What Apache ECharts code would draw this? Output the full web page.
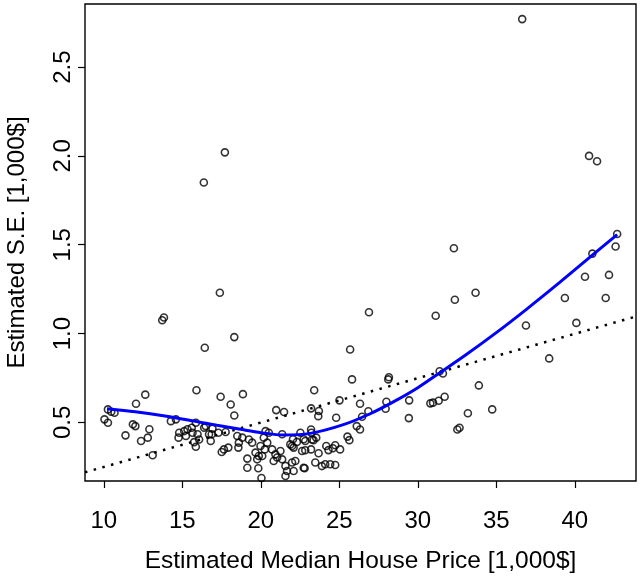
<!DOCTYPE html>
<html>
<head>
<meta charset="utf-8">
<script src="https://cdn.jsdelivr.net/npm/echarts@6/dist/echarts.min.js"></script>
<style>
html,body{margin:0;padding:0;background:#fff;}
#chart{width:640px;height:578px;}
</style>
</head>
<body>
<div id="chart"></div>
<script>
const xTicks = [10, 15, 20, 25, 30, 35, 40];
const yTicks = [0.5, 1.0, 1.5, 2.0, 2.5];

const priceX = [
36.65,17.71,16.37,40.91,41.42,17.39,13.83,13.72,16.43,18.31,32.30,32.36,33.68,31.14,26.89,36.89,38.37,40.10,39.37,41.97,40.65,42.18,41.12,42.70,42.60,
34.74,33.89,33.19,32.66,32.52,29.45,29.43,30.80,30.97,31.33,31.71,31.39,31.60,28.16,28.12,28.00,27.95,26.32,26.85,26.32,
25.69,25.81,23.40,25.01,23.20,23.70,23.66,24.80,26.45,26.11,23.20,25.52,25.64,22.73,23.36,23.53,22.05,22.30,24.17,24.74,24.59,25.05,22.83,23.20,23.68,24.31,22.09,22.20,21.99,22.73,23.47,23.89,24.10,24.42,24.74,21.99,
17.44,18.86,18.08,18.31,20.98,21.48,16.49,16.92,16.87,16.81,17.76,17.30,18.50,18.82,18.60,18.57,19.24,19.45,17.65,17.51,17.93,20.30,20.51,20.19,20.41,19.98,20.25,19.66,20.09,19.14,19.77,19.87,20.72,20.93,21.04,21.25,20.82,21.36,19.14,19.84,20.04,21.57,21.67,21.57,22.09,22.79,21.36,22.52,22.83,23.22,23.26,22.63,21.88,
15.90,12.64,12.05,10.26,10.47,10.68,10.04,10.26,11.85,12.01,11.38,12.90,12.80,12.37,13.11,14.27,14.59,14.80,14.76,15.12,15.33,15.23,15.60,15.65,15.86,15.97,16.07,15.75,15.86,16.39,16.70
];
const seY = [
2.77,2.02,1.85,2.00,1.97,1.23,1.09,1.075,0.92,0.98,1.48,1.19,1.23,1.10,1.12,1.045,0.86,1.06,1.20,1.20,1.32,1.33,1.45,1.56,1.49,
0.573,0.708,0.551,0.47,0.46,0.624,0.524,0.607,0.611,0.622,0.644,0.788,0.775,0.754,0.742,0.616,0.577,0.605,0.563,0.46,
0.91,0.742,0.681,0.624,0.579,0.564,0.535,0.526,0.532,0.479,0.46,0.42,0.40,0.405,0.40,0.414,0.405,0.39,0.367,0.371,0.354,0.348,0.343,0.348,0.326,0.344,0.358,0.283,0.274,0.245,0.274,0.254,0.264,0.264,0.26,0.367,
0.644,0.659,0.601,0.539,0.569,0.558,0.479,0.465,0.433,0.395,0.446,0.442,0.423,0.414,0.386,0.358,0.404,0.386,0.348,0.333,0.358,0.451,0.442,0.414,0.386,0.367,0.348,0.33,0.311,0.296,0.292,0.311,0.348,0.32,0.302,0.339,0.283,0.292,0.245,0.242,0.187,0.255,0.226,0.198,0.226,0.242,0.433,0.442,0.395,0.442,0.404,0.339,0.376,
0.681,0.656,0.605,0.573,0.56,0.554,0.517,0.498,0.489,0.479,0.427,0.461,0.414,0.395,0.315,0.507,0.517,0.442,0.414,0.451,0.461,0.423,0.47,0.442,0.498,0.433,0.404,0.389,0.363,0.47,0.433
];

const loessX = [10.2, 12, 14, 15.75, 17.2, 18.7, 20, 21.46, 23.15, 25.26, 27, 28.5, 30, 31.4, 33, 35, 36.9, 39, 41.1, 42.7];
const loessY = [0.577, 0.56, 0.535, 0.507, 0.484, 0.461, 0.442, 0.429, 0.438, 0.487, 0.55, 0.618, 0.695, 0.779, 0.876, 1.005, 1.135, 1.285, 1.44, 1.557];

const olsX = [8.8, 43.9];
const olsY = [0.219, 1.096];

const FONT = '"Liberation Sans", Arial, Helvetica, sans-serif';

const chart = echarts.init(document.getElementById('chart'), null, {renderer: 'canvas'});
chart.setOption({
  animation: false,
  backgroundColor: '#fff',
  grid: {left: 85, right: 4, top: 4, bottom: 97, show: true, borderColor: '#000', borderWidth: 1.4, backgroundColor: 'transparent', containLabel: false, outerBoundsMode: 'none'},
  xAxis: {
    type: 'value', min: 8.8, max: 43.9,
    name: 'Estimated Median House Price [1,000$]',
    nameLocation: 'middle', nameGap: 68,
    nameTextStyle: {fontFamily: FONT, fontSize: 24.5, color: '#000'},
    splitLine: {show: false},
    axisLine: {show: false},
    axisTick: {show: true, length: 7, customValues: xTicks, lineStyle: {color: '#000', width: 1.2}},
    axisLabel: {customValues: xTicks, formatter: v => String(v), fontFamily: FONT, fontSize: 24, color: '#000', margin: 28}
  },
  yAxis: {
    type: 'value', min: 0.17, max: 2.855,
    name: 'Estimated S.E. [1,000$]',
    nameLocation: 'middle', nameGap: 56,
    nameTextStyle: {fontFamily: FONT, fontSize: 24, color: '#000'},
    splitLine: {show: false},
    axisLine: {show: false},
    axisTick: {show: true, length: 7, customValues: yTicks, lineStyle: {color: '#000', width: 1.2}},
    axisLabel: {customValues: yTicks, formatter: v => v.toFixed(1), rotate: 90, fontFamily: FONT, fontSize: 24, color: '#000', margin: 10}
  },
  series: [
    {
      type: 'scatter',
      data: priceX.map((x, i) => [x, seY[i]]),
      symbol: 'circle', symbolSize: 7,
      itemStyle: {color: 'rgba(0,0,0,0)', borderColor: '#000', borderWidth: 1.6},
      z: 2
    },
    {
      type: 'line',
      data: olsX.map((x, i) => [x, olsY[i]]),
      showSymbol: false, symbol: 'none',
      lineStyle: {color: '#000', width: 2.5, type: [2.5, 6.5], cap: 'butt'},
      z: 3
    },
    {
      type: 'line',
      data: loessX.map((x, i) => [x, loessY[i]]),
      smooth: 0.3, showSymbol: false, symbol: 'none',
      lineStyle: {color: '#0000ff', width: 3},
      z: 4
    }
  ]
});
</script>
</body>
</html>
